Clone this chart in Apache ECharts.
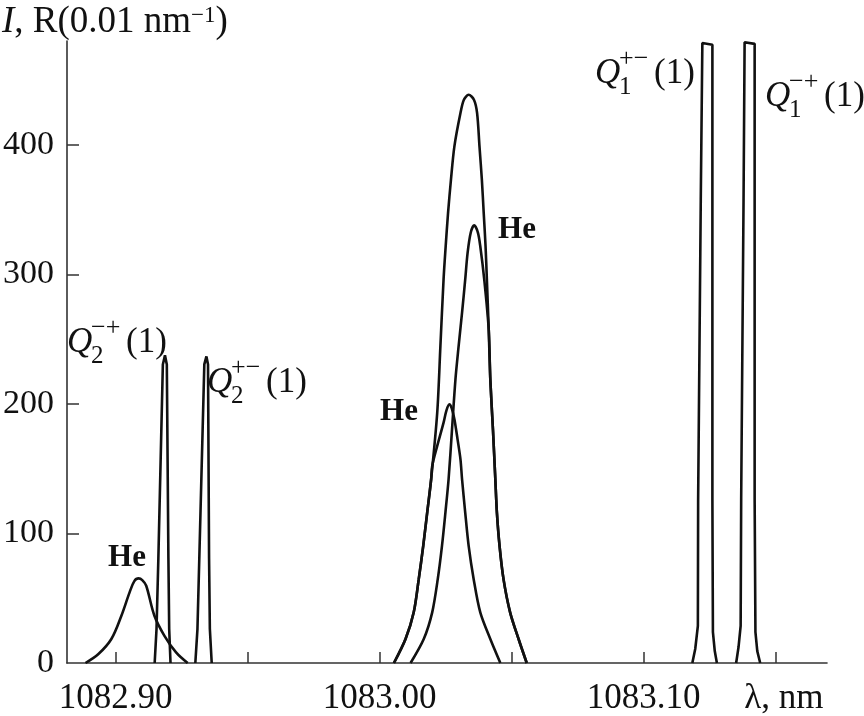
<!DOCTYPE html>
<html><head><meta charset="utf-8">
<script src="https://cdn.jsdelivr.net/npm/echarts@6/dist/echarts.min.js"></script>
<style>html,body{margin:0;padding:0;background:#fff}#c{width:864px;height:716px}</style>
</head><body><div id="c"></div>
<script>
// wavelength (nm) and intensity (R per 0.01 nm)
const he1Lambda = [1082.8886, 1082.8935, 1082.8984, 1082.9022, 1082.9053, 1082.9071, 1082.9087, 1082.9101, 1082.9116, 1082.9147, 1082.9185, 1082.9229, 1082.9273];
const he1Value  = [0, 6.9, 18.5, 36.5, 54.5, 63.2, 65.3, 64.0, 59.6, 36.5, 21.0, 8.2, 0];

const q2mpLambda = [1082.9148, 1082.9155, 1082.9162, 1082.9179, 1082.9187, 1082.9194, 1082.9200, 1082.9203, 1082.9208];
const q2mpValue  = [0, 26.2, 80.9, 230.4, 237.4, 230.4, 80.9, 26.2, 0];

const q2pmLambda = [1082.9302, 1082.9310, 1082.9317, 1082.9336, 1082.9344, 1082.9350, 1082.9354, 1082.9357, 1082.9364];
const q2pmValue  = [0, 26.2, 80.9, 230.4, 236.6, 230.4, 80.9, 26.2, 0];

const totalLambda = [1083.0054, 1083.0098, 1083.0129, 1083.0148, 1083.0165, 1083.0180, 1083.0195, 1083.0218, 1083.0230, 1083.0242, 1083.0250, 1083.0259, 1083.0270, 1083.0283, 1083.0306, 1083.0319, 1083.0337, 1083.0357, 1083.0369, 1083.0378, 1083.0387, 1083.0394, 1083.0401, 1083.0406, 1083.0413, 1083.0419, 1083.0429, 1083.0438, 1083.0444, 1083.0454, 1083.0469, 1083.0494, 1083.0526, 1083.0557];
const totalValue  = [0, 18.5, 39.1, 64.7, 90.4, 116.1, 141.8, 193.2, 244.5, 296.0, 321.6, 347.4, 373.0, 398.7, 424.4, 434.7, 438.5, 434.7, 424.4, 398.7, 373.0, 347.4, 321.6, 296.0, 257.4, 218.9, 180.3, 141.8, 116.1, 90.4, 64.7, 39.1, 18.5, 0];

const he2Lambda = [1083.0117, 1083.0167, 1083.0199, 1083.0220, 1083.0236, 1083.0249, 1083.0261, 1083.0274, 1083.0287, 1083.0299, 1083.0312, 1083.0324, 1083.0333, 1083.0345, 1083.0358, 1083.0372, 1083.0381, 1083.0396, 1083.0413, 1083.0419, 1083.0429, 1083.0438, 1083.0444, 1083.0454, 1083.0469, 1083.0494, 1083.0526, 1083.0557];
const he2Value  = [0, 18.5, 39.1, 64.7, 90.4, 116.1, 141.8, 180.3, 218.9, 244.5, 270.3, 296.0, 316.5, 332.2, 337.8, 332.2, 321.6, 296.0, 257.4, 218.9, 180.3, 141.8, 116.1, 90.4, 64.7, 39.1, 18.5, 0];

const he3Lambda = [1083.0054, 1083.0098, 1083.0129, 1083.0148, 1083.0165, 1083.0180, 1083.0195, 1083.0199, 1083.0218, 1083.0242, 1083.0253, 1083.0264, 1083.0273, 1083.0283, 1083.0295, 1083.0306, 1083.0312, 1083.0324, 1083.0337, 1083.0356, 1083.0381, 1083.0419, 1083.0457];
const he3Value  = [0, 18.5, 39.1, 64.7, 90.4, 116.1, 141.8, 152.1, 167.5, 185.5, 195.0, 199.6, 196.5, 188.1, 172.6, 157.2, 141.8, 116.1, 90.4, 64.7, 39.1, 18.5, 0];

const q1pmLambda = [1083.1184, 1083.1195, 1083.1205, 1083.1206, 1083.1216, 1083.1222, 1083.1260, 1083.1260, 1083.1262, 1083.1269, 1083.1277];
const q1pmValue  = [0, 10.8, 28.7, 126.4, 357.6, 478.4, 477.1, 126.4, 23.9, 9.2, 0];

const q1mpLambda = [1083.1350, 1083.1359, 1083.1367, 1083.1369, 1083.1378, 1083.1382, 1083.1420, 1083.1420, 1083.1423, 1083.1430, 1083.1441];
const q1mpValue  = [0, 12.3, 28.7, 126.4, 357.6, 479.0, 477.8, 126.4, 23.9, 9.2, 0];

const xTickValues  = [1082.90, 1082.95, 1083.00, 1083.05, 1083.10, 1083.15];
const xLabelValues = [1082.90, 1083.00, 1083.10, 1083.15];
const yTickValues  = [100, 200, 300, 400];
const yLabelValues = [0, 100, 200, 300, 400];

const FONT = '"Liberation Serif", "Times New Roman", serif';
const INK = '#111';

function zip(xs, ys) { return xs.map((x, i) => [x, ys[i]]); }
function curve(name, xs, ys, smooth) {
  return {
    name, type: 'line', data: zip(xs, ys), showSymbol: false, symbol: 'none',
    smooth: smooth, silent: true, animation: false, clip: true,
    lineStyle: { color: INK, width: 2.6 }
  };
}

function qLabel(x0, yc, sub, sup) {
  return {
    type: 'group', silent: true,
    children: [
      { type: 'text', x: x0, y: yc, style: { text: 'Q', font: 'italic 35px ' + FONT, fill: INK, align: 'left', verticalAlign: 'middle' } },
      { type: 'text', x: x0 + 24, y: yc + 13, style: { text: sub, font: '25px ' + FONT, fill: INK, align: 'left', verticalAlign: 'middle' } },
      { type: 'text', x: x0 + 24, y: yc - 15, style: { text: sup, font: '26px ' + FONT, fill: INK, align: 'left', verticalAlign: 'middle' } },
      { type: 'text', x: x0 + 59, y: yc, style: { text: '(1)', font: '35px ' + FONT, fill: INK, align: 'left', verticalAlign: 'middle' } }
    ]
  };
}
function heLabel(x, y) {
  return { type: 'text', x, y, silent: true, style: { text: 'He', font: 'bold 31px ' + FONT, fill: INK, align: 'center', verticalAlign: 'middle' } };
}

const chart = echarts.init(document.getElementById('c'), null, { renderer: 'canvas' });
chart.setOption({
  backgroundColor: '#fff',
  animation: false,
  grid: { left: 65, right: 37, top: 41, bottom: 52, containLabel: false },
  xAxis: {
    type: 'value', min: 1082.8816, max: 1083.1694,
    axisLine: { show: true, onZero: true, lineStyle: { color: '#333', width: 1.6 } },
    splitLine: { show: false },
    axisTick: { show: true, inside: true, length: 11, customValues: xTickValues, lineStyle: { color: '#333', width: 1.5 } },
    axisLabel: {
      customValues: xLabelValues, margin: 18, color: INK, fontFamily: FONT, fontSize: 35,
      formatter: v => Math.abs(v - 1083.15) < 1e-6 ? '{l|λ, nm}' : v.toFixed(2),
      rich: { l: { fontFamily: FONT, fontSize: 35, color: INK, padding: [0, 0, 0, 16] } }
    }
  },
  yAxis: {
    type: 'value', min: 0, max: 480,
    axisLine: { show: true, lineStyle: { color: '#333', width: 1.6 } },
    splitLine: { show: false },
    axisTick: { show: true, inside: true, length: 12, customValues: yTickValues, lineStyle: { color: '#333', width: 1.5 } },
    axisLabel: { customValues: yLabelValues, margin: 13, color: INK, fontFamily: FONT, fontSize: 34 }
  },
  series: [
    curve('He 1082.91', he1Lambda, he1Value, 0.35),
    curve('Q2-+(1)', q2mpLambda, q2mpValue, false),
    curve('Q2+-(1)', q2pmLambda, q2pmValue, false),
    curve('total', totalLambda, totalValue, 0.3),
    curve('He 1083.034', he2Lambda, he2Value, 0.3),
    curve('He 1083.025', he3Lambda, he3Value, 0.3),
    curve('Q1+-(1)', q1pmLambda, q1pmValue, false),
    curve('Q1-+(1)', q1mpLambda, q1mpValue, false)
  ],
  graphic: [
    {
      type: 'text', left: 2, top: 4, silent: true,
      style: {
        text: '{i|I}, R(0.01 nm{s|−1})',
        font: '37px ' + FONT, fill: INK,
        rich: {
          i: { fontStyle: 'italic', fontFamily: FONT, fontSize: 37, fill: INK },
          s: { fontFamily: FONT, fontSize: 23, fill: INK, verticalAlign: 'top' }
        }
      }
    },
    qLabel(67, 343, '2', '−+'),
    qLabel(207, 383, '2', '+−'),
    qLabel(595, 74, '1', '+−'),
    qLabel(765, 97, '1', '−+'),
    heLabel(127, 558),
    heLabel(399, 412),
    heLabel(517, 230)
  ]
});
</script>
</body></html>
